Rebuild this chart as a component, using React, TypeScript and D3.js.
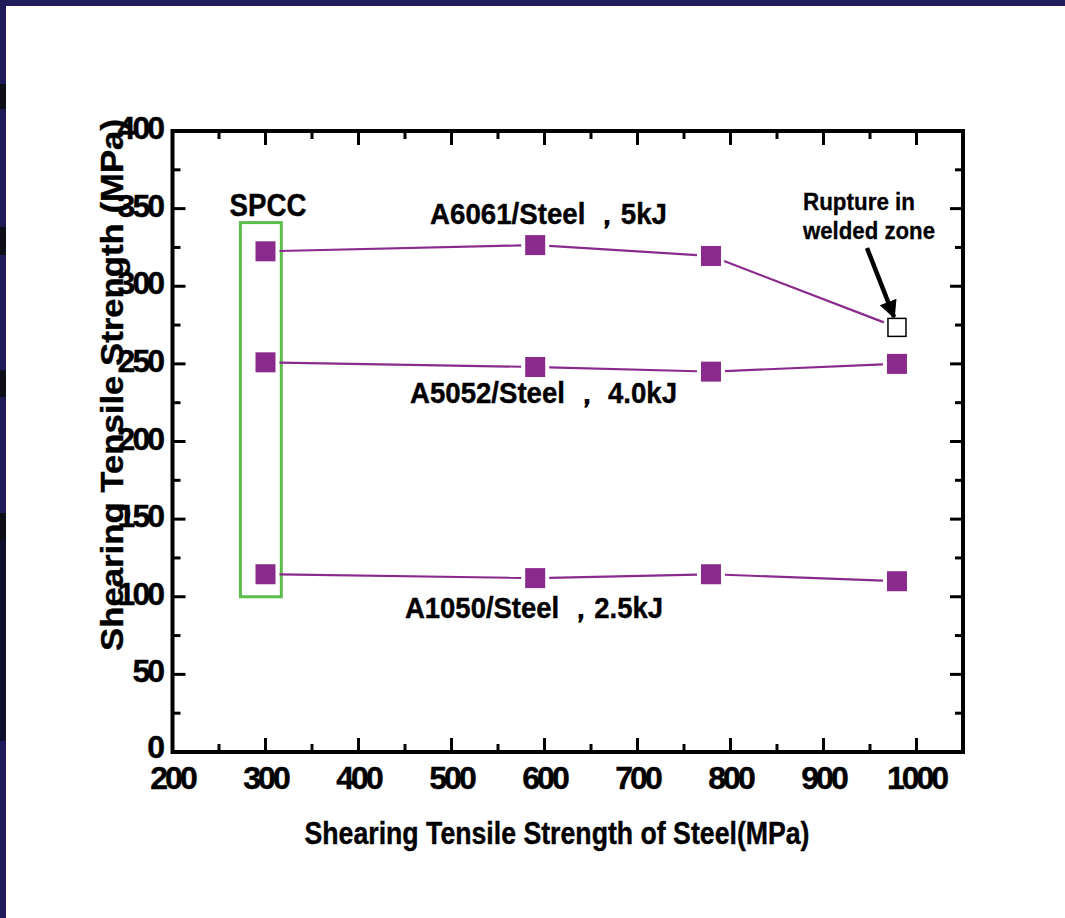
import React from 'react';
import * as d3 from 'd3';

const W = 1065;
const H = 918;

// steel strength (x) for each joint
const steelX = [300, 590, 779, 979];
const a6061 = [322.5, 326.5, 319.5, 273.5];
const a5052 = [251, 248, 245, 250];
const a1050 = [114.5, 112, 114.5, 110];
const seriesNames = ['A6061/Steel ，5kJ', 'A5052/Steel ， 4.0kJ', 'A1050/Steel ，2.5kJ'];

const xTicks = [200, 300, 400, 500, 600, 700, 800, 900, 1000];
const yTicks = [0, 50, 100, 150, 200, 250, 300, 350, 400];

const margin = { left: 172.5, right: 963, top: 131, bottom: 752 };
const PURPLE = '#8a2a8c';
const FONT = '"Liberation Sans", Arial, sans-serif';

function App() {
  const x = d3.scaleLinear().domain([200, 1050]).range([margin.left, margin.right]);
  const y = d3.scaleLinear().domain([0, 400]).range([margin.bottom, margin.top]);

  const xMinor = d3.range(250, 1050, 100);
  const yMinor = d3.range(25, 400, 50);

  const series = [a6061, a5052, a1050];

  // segment with a gap at each marker
  const seg = (x1: number, y1: number, x2: number, y2: number, g1: number, g2: number) => {
    const dx = x2 - x1, dy = y2 - y1;
    const len = Math.sqrt(dx * dx + dy * dy);
    const ux = dx / len, uy = dy / len;
    return { x1: x1 + ux * g1, y1: y1 + uy * g1, x2: x2 - ux * g2, y2: y2 - uy * g2 };
  };

  const ms = 20;

  return (
    <svg width={W} height={H} style={{ position: 'absolute', left: 0, top: 0, background: '#fff' }}>
      <defs>
        <marker id="arr" viewBox="0 0 10 10" refX="9" refY="5" markerWidth="4" markerHeight="4.5" orient="auto">
          <path d="M0,0 L10,5 L0,10 Z" fill="#000" />
        </marker>
      </defs>
      {/* slide border */}
      <rect x={0} y={0} width={W} height={6} fill="#211d5c" />
      <rect x={0} y={0} width={6} height={H} fill="#1f1b58" />
      {[[84, 109], [227, 255], [370, 397], [513, 541]].map(([a, b], i) => (
        <rect key={i} x={0} y={a} width={6} height={b - a} fill="#0e0e18" />
      ))}
      <rect x={0} y={541} width={6} height={200} fill="#0d0f2c" />

      {/* frame */}
      <rect x={margin.left} y={margin.top} width={margin.right - margin.left} height={margin.bottom - margin.top}
        fill="none" stroke="#000" strokeWidth={4} />

      {/* ticks */}
      <g stroke="#000" strokeWidth={3}>
        {xTicks.map(t => (
          <g key={'xt' + t}>
            <line x1={x(t)} x2={x(t)} y1={margin.bottom} y2={margin.bottom - 14} />
            <line x1={x(t)} x2={x(t)} y1={margin.top} y2={margin.top + 14} />
          </g>
        ))}
        {xMinor.map(t => (
          <g key={'xm' + t}>
            <line x1={x(t)} x2={x(t)} y1={margin.bottom} y2={margin.bottom - 8} />
            <line x1={x(t)} x2={x(t)} y1={margin.top} y2={margin.top + 8} />
          </g>
        ))}
        {yTicks.map(t => (
          <g key={'yt' + t}>
            <line y1={y(t)} y2={y(t)} x1={margin.left} x2={margin.left + 13} />
            <line y1={y(t)} y2={y(t)} x1={margin.right} x2={margin.right - 13} />
          </g>
        ))}
        {yMinor.map(t => (
          <g key={'ym' + t}>
            <line y1={y(t)} y2={y(t)} x1={margin.left} x2={margin.left + 8} />
            <line y1={y(t)} y2={y(t)} x1={margin.right} x2={margin.right - 8} />
          </g>
        ))}
      </g>

      {/* y title */}
      <text transform={`translate(123,385) rotate(-90)`} textAnchor="middle" fontFamily={FONT} fontWeight="bold"
        fontSize={32} stroke="#000" strokeWidth={0.4} textLength={532} lengthAdjust="spacingAndGlyphs">Shearing Tensile Strength (MPa)</text>

      {/* tick labels */}
      <g fontFamily={FONT} fontWeight="bold" fontSize={32} fill="#000" stroke="#000" strokeWidth={0.4}>
        {xTicks.map(t => (
          <text key={'xl' + t} x={x(t)} y={789} textAnchor="middle" letterSpacing={-3}>{t}</text>
        ))}
        {yTicks.map(t => (
          <text key={'yl' + t} x={162} y={y(t) + (t === 0 ? 6 : 8)} textAnchor="end" letterSpacing={-3}>{t}</text>
        ))}
      </g>

      {/* x title */}
      <text x={557} y={844} textAnchor="middle" fontFamily={FONT} fontWeight="bold" fontSize={32} stroke="#000" strokeWidth={0.4}
        textLength={505} lengthAdjust="spacingAndGlyphs">Shearing Tensile Strength of Steel(MPa)</text>

      {/* SPCC box */}
      <rect x={x(273)} y={y(341)} width={x(317) - x(273)} height={y(100) - y(341)} fill="none" stroke="#5cbd4c" strokeWidth={3} />
      <text x={268} y={216} textAnchor="middle" fontFamily={FONT} fontWeight="bold" fontSize={31} stroke="#000" strokeWidth={0.4}
        textLength={77} lengthAdjust="spacingAndGlyphs">SPCC</text>

      {/* lines */}
      <g stroke={PURPLE} strokeWidth={2.2}>
        {series.map((s, si) =>
          s.slice(1).map((v, i) => {
            const l = seg(x(steelX[i]), y(s[i]), x(steelX[i + 1]), y(v), 14, 14);
            return <line key={si + '-' + i} {...l} />;
          })
        )}
      </g>

      {/* markers */}
      {series.map((s, si) =>
        s.map((v, i) => {
          const open = si === 0 && i === s.length - 1;
          return open ? (
            <rect key={si + 'm' + i} x={x(steelX[i]) - 9} y={y(v) - 9} width={18} height={18} fill="#fff" stroke="#000" strokeWidth={1.5} />
          ) : (
            <rect key={si + 'm' + i} x={x(steelX[i]) - ms / 2} y={y(v) - ms / 2} width={ms} height={ms} fill={PURPLE} />
          );
        })
      )}

      {/* series labels */}
      <g fontFamily={FONT} fontWeight="bold" fontSize={29} fill="#000" stroke="#000" strokeWidth={0.4}>
        <text x={430} y={224} textLength={237} lengthAdjust="spacingAndGlyphs">{seriesNames[0]}</text>
        <text x={410} y={403} textLength={267} lengthAdjust="spacingAndGlyphs">{seriesNames[1]}</text>
        <text x={405} y={618} textLength={258} lengthAdjust="spacingAndGlyphs">{seriesNames[2]}</text>
      </g>

      {/* annotation */}
      <g fontFamily={FONT} fontWeight="bold" fontSize={24} fill="#000" stroke="#000" strokeWidth={0.3}>
        <text x={803} y={210} textLength={112} lengthAdjust="spacingAndGlyphs">Rupture in</text>
        <text x={803} y={239} textLength={132} lengthAdjust="spacingAndGlyphs">welded zone</text>
      </g>
      <line x1={867} y1={248} x2={894} y2={317} stroke="#000" strokeWidth={4.5} markerEnd="url(#arr)" />
    </svg>
  );
}

export default App;
